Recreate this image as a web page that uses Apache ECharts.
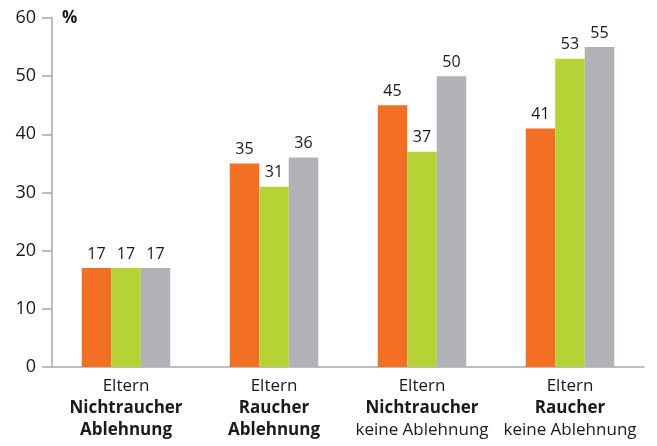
<!DOCTYPE html>
<html><head><meta charset="utf-8">
<script src="https://cdn.jsdelivr.net/npm/echarts@6/dist/echarts.min.js"></script>
<style>html,body{margin:0;padding:0;background:#fff}#c{width:657px;height:446px}</style>
</head><body><div id="c"></div>
<script>
const categories = [
  "Eltern\n{b|Nichtraucher}\n{b|Ablehnung}",
  "Eltern\n{b|Raucher}\n{b|Ablehnung}",
  "Eltern\n{b|Nichtraucher}\nkeine Ablehnung",
  "Eltern\n{b|Raucher}\nkeine Ablehnung"
];
const seriesOrange = [17, 35, 45, 41];
const seriesGreen = [17, 31, 37, 53];
const seriesGray = [17, 36, 50, 55];
const yTicks = [0, 10, 20, 30, 40, 50, 60];

const font = "Open Sans";
const labelStyle = {show: true, position: 'top', distance: 6, color: '#1a1a1a', fontSize: 16, fontFamily: font};
function bar(data, color) {
  return {type: 'bar', data: data, barWidth: 29.5, barGap: '0%', itemStyle: {color: color}, label: labelStyle};
}
const chart = echarts.init(document.getElementById('c'));
chart.setOption({
  animation: false,
  grid: {left: 52, right: 13, top: 18, bottom: 79},
  xAxis: {
    type: 'category', data: categories,
    axisLine: {lineStyle: {color: '#a9a9a9', width: 1.5}},
    axisTick: {show: false},
    axisLabel: {
      interval: 0, margin: 8, color: '#1a1a1a', fontSize: 17, fontFamily: font, lineHeight: 22,
      rich: {b: {fontWeight: 'bold', fontSize: 17, fontFamily: font, color: '#1a1a1a', lineHeight: 22}}
    }
  },
  yAxis: {
    type: 'value', min: yTicks[0], max: yTicks[yTicks.length - 1], interval: 10,
    axisLine: {show: true, lineStyle: {color: '#a9a9a9', width: 1.5}},
    axisTick: {show: true, length: 10, lineStyle: {color: '#a9a9a9', width: 1.5}},
    splitLine: {show: false},
    axisLabel: {color: '#1a1a1a', fontSize: 18, fontFamily: font, margin: 16}
  },
  graphic: [{type: 'text', left: 62, top: 10, style: {text: '%', fontSize: 17, fontWeight: 'bold', fontFamily: font, fill: '#1a1a1a'}}],
  series: [bar(seriesOrange, '#f26f23'), bar(seriesGreen, '#b5d334'), bar(seriesGray, '#b1b2b5')]
});
</script></body></html>
